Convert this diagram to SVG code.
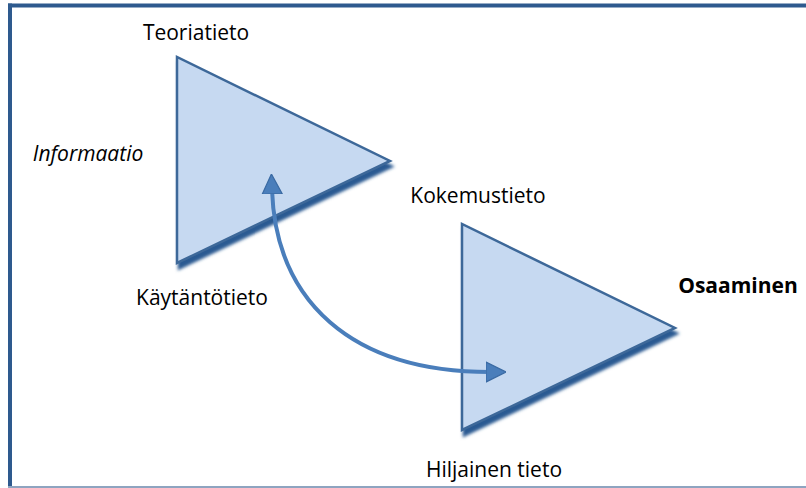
<svg xmlns="http://www.w3.org/2000/svg" width="806" height="488" viewBox="0 0 806 488">
<defs>
<filter id="sh" x="-10%" y="-10%" width="130%" height="130%">
<feDropShadow dx="2" dy="5.5" stdDeviation="1.6" flood-color="#2c5a92" flood-opacity="1"/>
</filter>
<marker id="ah" viewBox="0 0 10 10" refX="2" refY="5" markerWidth="5" markerHeight="5.5" orient="auto-start-reverse" markerUnits="strokeWidth">
<path d="M0,0 L10,5 L0,10 Z" fill="#4a7ebb" stroke="#3a6aa3" stroke-width="0.6"/>
</marker>
</defs>
<style>
.tri{fill:#c6d9f1;stroke:#3d6899;stroke-width:2.5;stroke-linejoin:miter;filter:url(#sh)}
.t{font-family:"Open Sans","Liberation Sans",sans-serif;font-size:21px;fill:#000;text-anchor:middle}
.conn{fill:none;stroke:#4a7ebb;stroke-width:4}
</style>
<rect x="0" y="0" width="806" height="488" fill="#fff"/>
<g id="frame">
<rect x="8" y="3.5" width="798" height="4" fill="#2e5a8e"/>
<rect x="8" y="3.5" width="4" height="484" fill="#2e5a8e"/>
<rect x="8" y="486" width="798" height="2" fill="#8ea4c0"/>
</g>
<g id="triangle1">
<polygon class="tri" points="177,57 177,263 390,161"/>
</g>
<g id="triangle2">
<polygon class="tri" points="462,224 462,430 675,328"/>
</g>
<g id="connectors">
<path class="conn" d="M272,190 C276,300 350,372 490,372" marker-start="url(#ah)" marker-end="url(#ah)"/>
</g>
<g id="labels">
<text class="t" x="196" y="40">Teoriatieto</text>
<text class="t" x="88" y="161" font-style="italic">Informaatio</text>
<text class="t" x="478" y="203">Kokemustieto</text>
<text class="t" x="202" y="305">Käytäntötieto</text>
<text class="t" x="738" y="293" font-weight="bold">Osaaminen</text>
<text class="t" x="494" y="477">Hiljainen tieto</text>
</g>
</svg>
